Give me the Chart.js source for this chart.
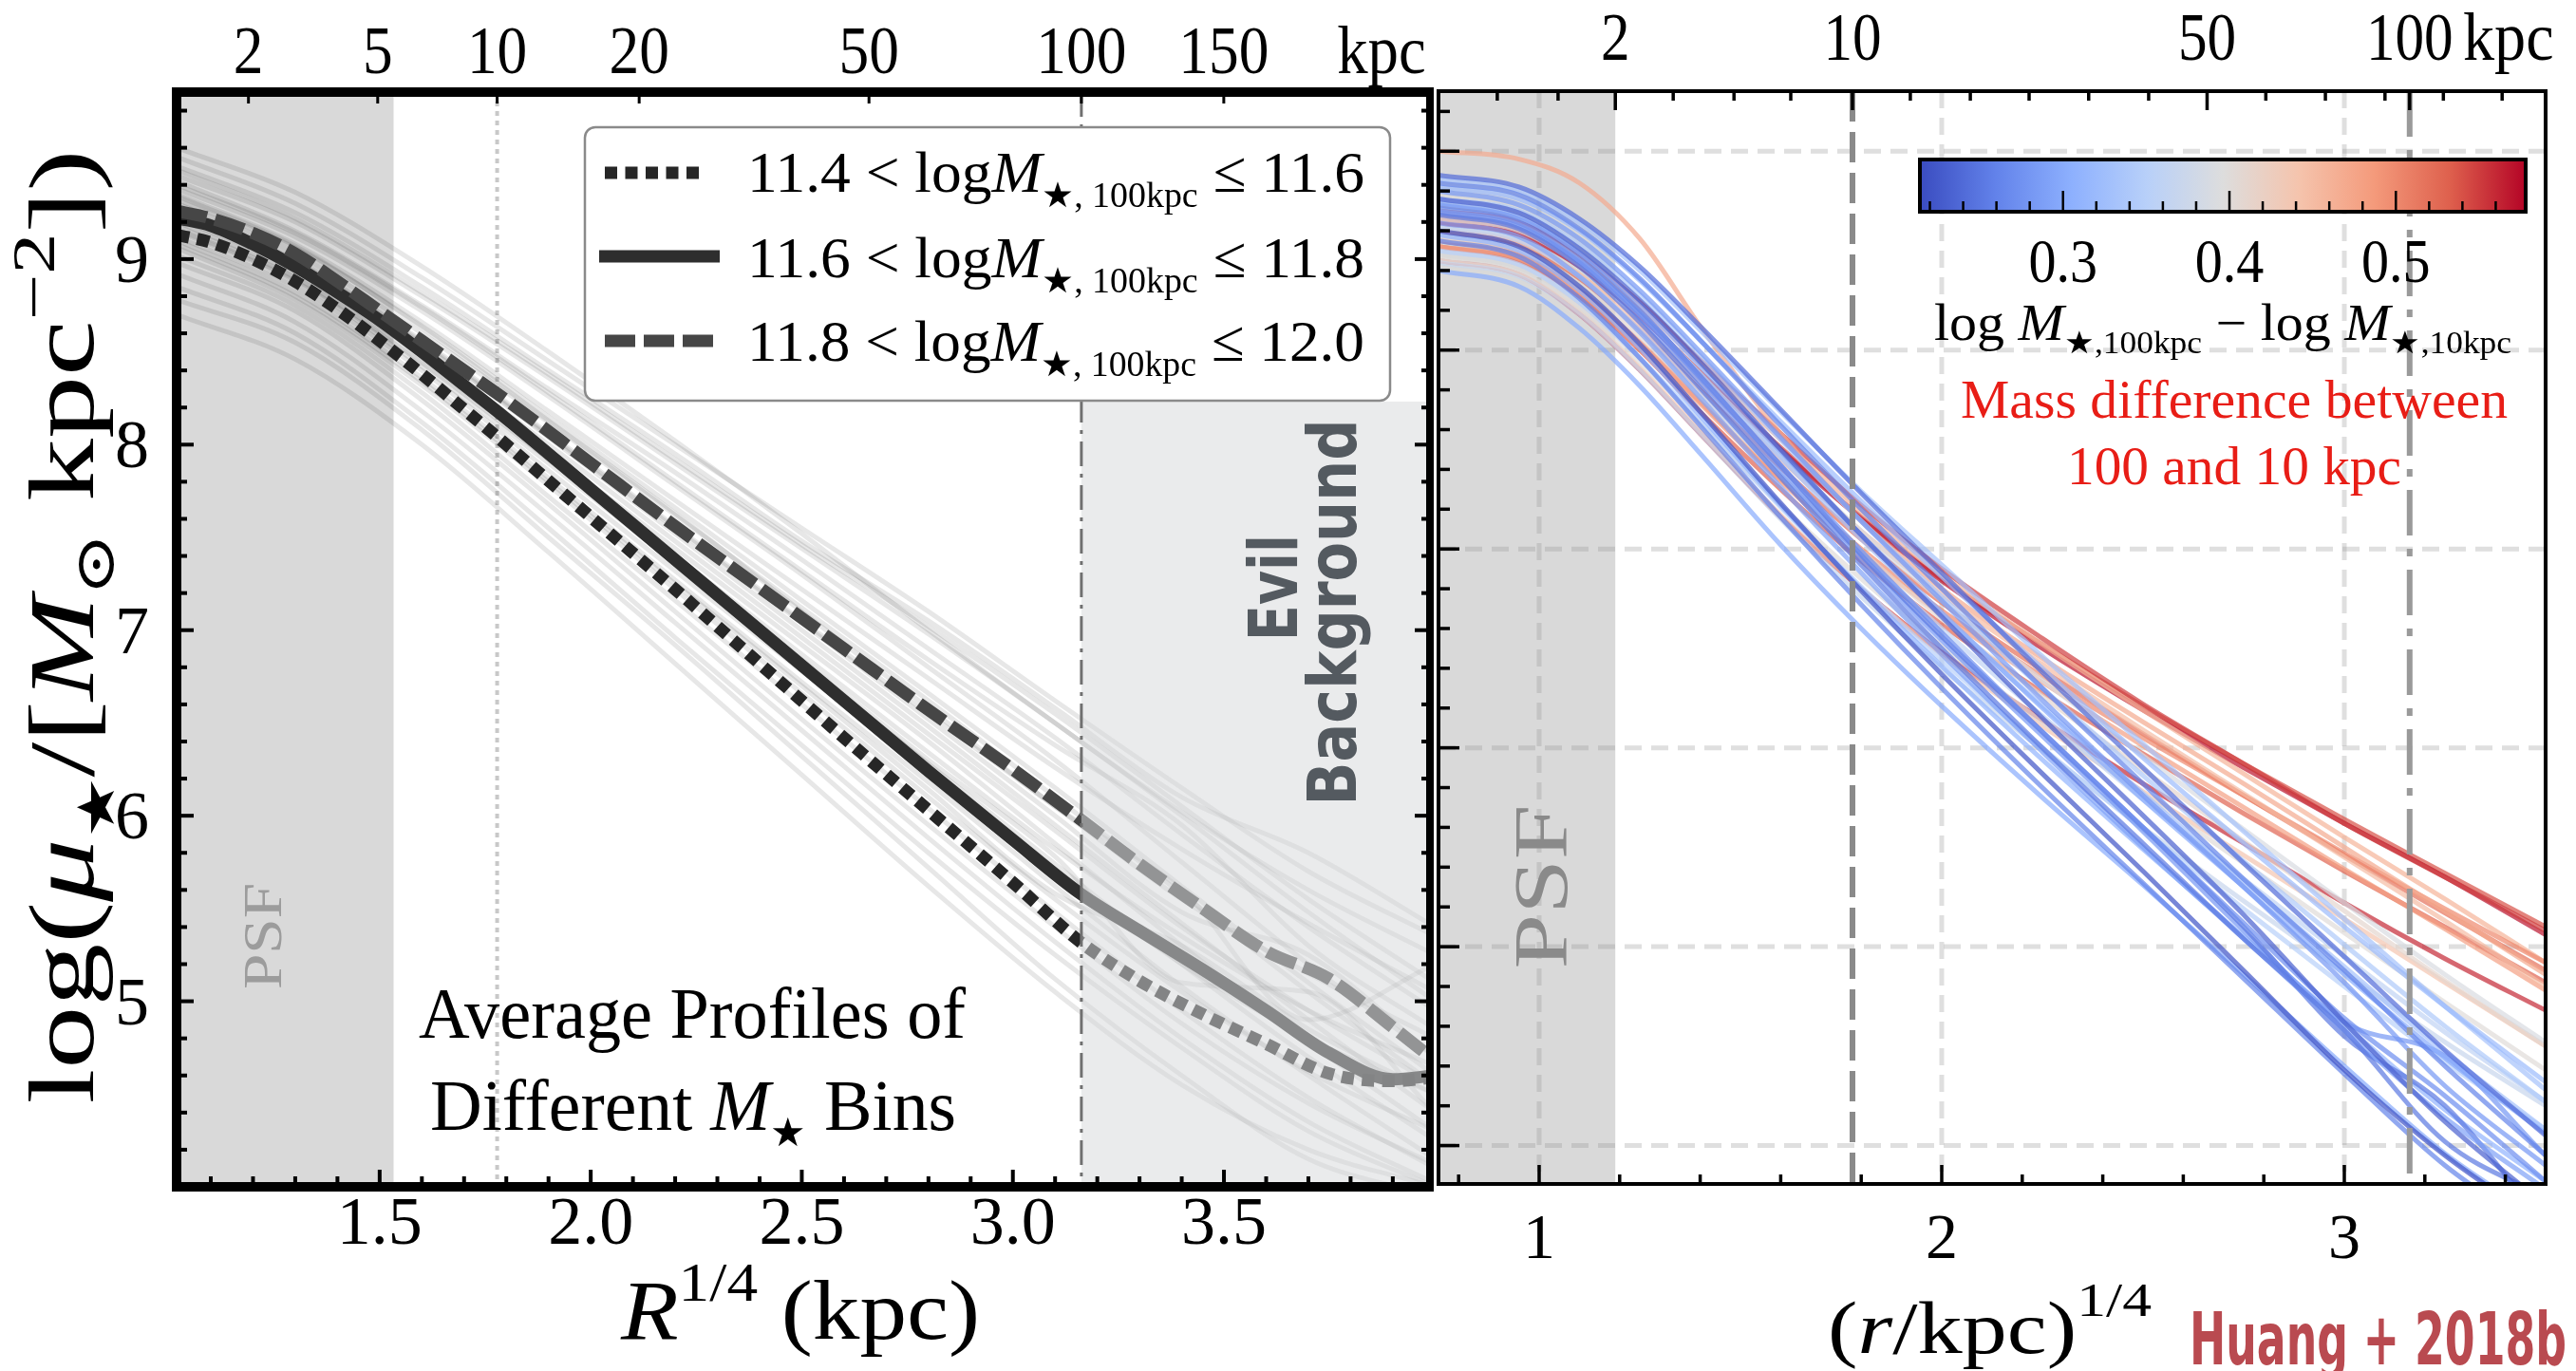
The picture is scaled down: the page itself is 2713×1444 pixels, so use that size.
<!DOCTYPE html>
<html>
<head>
<meta charset="utf-8">
<script src="https://cdn.jsdelivr.net/npm/chart.js@4.4.1/dist/chart.umd.min.js"></script>
<style>
  html, body { margin: 0; padding: 0; background: #fff; }
  #wrap { position: relative; width: 2713px; height: 1444px; overflow: hidden; background: #fff; }
  #wrap canvas { position: absolute; left: 0; top: 0; width: 2713px; height: 1444px; }
</style>
</head>
<body>
<div id="wrap">
  <canvas id="leftPanel" width="2713" height="1444"></canvas>
  <canvas id="rightPanel" width="2713" height="1444"></canvas>
</div>
<script>
// ---------------------------------------------------------------
// Left panel: average profiles of three stellar-mass bins
// ---------------------------------------------------------------
const rQ = [1.02, 1.1, 1.2, 1.3, 1.4, 1.5, 1.6, 1.7, 1.8, 2.0, 2.2, 2.4, 2.6, 2.8, 3.0, 3.16, 3.3, 3.45, 3.6, 3.75, 3.9, 4.0];
// 11.4 < logM <= 11.6 (dotted)
const muMeanLow  = [9.13, 9.09, 9.00, 8.88, 8.73, 8.56, 8.38, 8.19, 8.00, 7.61, 7.22, 6.82, 6.42, 6.03, 5.64, 5.32, 5.11, 4.93, 4.77, 4.61, 4.57, 4.59];
// 11.6 < logM <= 11.8 (solid)
const muMeanMid  = [9.22, 9.18, 9.08, 8.96, 8.82, 8.67, 8.50, 8.32, 8.14, 7.76, 7.38, 7.00, 6.62, 6.24, 5.87, 5.58, 5.38, 5.17, 4.95, 4.72, 4.58, 4.60];
// 11.8 < logM <= 12.0 (dashed)
const muMeanHigh = [9.26, 9.22, 9.14, 9.03, 8.88, 8.72, 8.56, 8.40, 8.24, 7.90, 7.56, 7.23, 6.90, 6.57, 6.25, 5.98, 5.74, 5.50, 5.27, 5.12, 4.86, 4.68];
const binEdges = ['11.4', '11.6', '11.8', '12.0'];

// individual galaxy profiles drawn faintly behind the averages
const rQIndiv = [1.02, 1.3, 1.6, 1.9, 2.2, 2.5, 2.8, 3.1, 3.4, 3.7, 4.0];
const indivProfiles = [
  [9.60, 9.36, 8.96, 8.50, 8.02, 7.52, 7.00, 6.50, 6.02, 5.60, 5.25],
  [9.55, 9.30, 8.90, 8.45, 8.00, 7.55, 7.10, 6.62, 6.15, 5.70, 5.35],
  [9.48, 9.22, 8.82, 8.38, 7.92, 7.46, 7.02, 6.55, 6.05, 5.55, 5.10],
  [9.45, 9.20, 8.80, 8.36, 7.90, 7.44, 6.98, 6.50, 6.00, 5.48, 5.00],
  [9.42, 9.15, 8.75, 8.30, 7.85, 7.38, 6.90, 6.42, 5.90, 5.40, 4.95],
  [9.38, 9.12, 8.72, 8.26, 7.78, 7.30, 6.80, 6.30, 5.75, 5.20, 4.70],
  [9.35, 9.08, 8.66, 8.18, 7.70, 7.22, 6.74, 6.26, 5.82, 5.42, 5.05],
  [9.32, 9.06, 8.64, 8.15, 7.66, 7.16, 6.66, 6.15, 5.62, 5.10, 4.60],
  [9.30, 9.03, 8.60, 8.12, 7.62, 7.12, 6.62, 6.10, 5.58, 5.05, 4.55],
  [9.28, 9.00, 8.56, 8.06, 7.56, 7.05, 6.55, 6.05, 5.55, 5.15, 4.80],
  [9.25, 8.98, 8.54, 8.04, 7.52, 7.00, 6.48, 5.95, 5.42, 4.90, 4.40],
  [9.22, 8.95, 8.50, 8.00, 7.48, 6.96, 6.44, 5.92, 5.40, 4.95, 4.55],
  [9.20, 8.92, 8.48, 7.96, 7.44, 6.92, 6.40, 5.85, 5.30, 4.78, 4.30],
  [9.18, 8.90, 8.45, 7.94, 7.40, 6.87, 6.34, 5.82, 5.35, 4.95, 4.65],
  [9.15, 8.88, 8.42, 7.90, 7.36, 6.82, 6.28, 5.74, 5.20, 4.70, 4.25],
  [9.12, 8.85, 8.40, 7.86, 7.32, 6.78, 6.24, 5.70, 5.20, 4.80, 4.50],
  [9.10, 8.82, 8.36, 7.82, 7.27, 6.72, 6.18, 5.62, 5.08, 4.60, 4.15],
  [9.06, 8.78, 8.32, 7.78, 7.22, 6.66, 6.10, 5.55, 5.05, 4.62, 4.30],
  [9.02, 8.75, 8.28, 7.72, 7.16, 6.60, 6.04, 5.48, 4.95, 4.48, 4.10],
  [8.98, 8.72, 8.24, 7.68, 7.10, 6.52, 5.95, 5.40, 4.88, 4.45, 4.12],
  [8.92, 8.66, 8.18, 7.62, 7.04, 6.46, 5.88, 5.32, 4.80, 4.35, 4.02],
  [8.85, 8.60, 8.12, 7.55, 6.96, 6.38, 5.80, 5.25, 4.75, 4.30, 4.00],
  [8.78, 8.55, 8.08, 7.50, 6.92, 6.32, 5.72, 5.12, 4.60, 4.15, 3.95],
  [8.70, 8.46, 8.00, 7.42, 6.82, 6.22, 5.62, 5.05, 4.55, 4.20, 4.00],
  [9.34, 9.07, 8.63, 8.13, 7.63, 7.10, 6.58, 6.05, 5.60, 4.90, 5.20],
  [9.16, 8.89, 8.44, 7.92, 7.38, 6.84, 6.30, 5.78, 5.10, 5.05, 4.40],
  [9.40, 9.14, 8.74, 8.28, 7.80, 7.32, 6.84, 6.38, 5.95, 5.30, 4.85],
  [9.26, 8.99, 8.55, 8.05, 7.55, 7.04, 6.52, 6.00, 5.48, 5.25, 4.70],
  [9.08, 8.80, 8.34, 7.80, 7.25, 6.70, 6.14, 5.58, 5.30, 4.85, 4.50],
  [9.50, 9.25, 8.85, 8.40, 7.95, 7.48, 7.05, 6.58, 6.10, 5.80, 5.40]
];

// ---------------------------------------------------------------
// Right panel: individual profiles coloured by logM100 - logM10
// ---------------------------------------------------------------
const rQRight = [0.75, 0.95, 1.1, 1.25, 1.4, 1.6, 1.8, 2.0, 2.25, 2.5, 2.75, 3.0, 3.25, 3.5];
const massDiff = [
  0.24, 0.26, 0.28, 0.23, 0.30, 0.27, 0.25, 0.29, 0.22, 0.26, 0.25, 0.28,
  0.32, 0.34, 0.33, 0.36, 0.31, 0.35, 0.37, 0.30, 0.33,
  0.39, 0.41, 0.40,
  0.47, 0.45, 0.48, 0.44, 0.50, 0.46,
  0.55, 0.57, 0.53, 0.56, 0.52, 0.54
];
const rightProfiles = [
  [9.88, 9.82, 9.66, 9.42, 9.12, 8.70, 8.28, 7.88, 7.38, 6.90, 6.42, 5.95, 5.48, 5.05],
  [9.84, 9.78, 9.61, 9.36, 9.05, 8.62, 8.20, 7.80, 7.30, 6.82, 6.34, 5.88, 5.40, 4.95],
  [9.80, 9.73, 9.56, 9.30, 8.99, 8.56, 8.14, 7.74, 7.24, 6.76, 6.30, 5.82, 5.30, 4.90],
  [9.76, 9.69, 9.51, 9.25, 8.94, 8.50, 8.07, 7.66, 7.15, 6.66, 6.16, 5.62, 5.12, 4.70],
  [9.74, 9.67, 9.49, 9.23, 8.92, 8.49, 8.07, 7.68, 7.20, 6.74, 6.30, 5.86, 5.44, 5.06],
  [9.71, 9.64, 9.45, 9.18, 8.86, 8.42, 7.99, 7.58, 7.08, 6.60, 6.12, 5.64, 5.25, 4.82],
  [9.68, 9.61, 9.42, 9.14, 8.81, 8.36, 7.92, 7.50, 7.00, 6.52, 6.04, 5.58, 5.02, 4.74],
  [9.64, 9.57, 9.37, 9.09, 8.76, 8.31, 7.88, 7.47, 6.98, 6.50, 6.04, 5.58, 5.14, 4.78],
  [9.60, 9.52, 9.32, 9.03, 8.69, 8.23, 7.79, 7.37, 6.87, 6.38, 5.88, 5.38, 4.95, 4.60],
  [9.55, 9.47, 9.26, 8.96, 8.62, 8.16, 7.72, 7.30, 6.80, 6.32, 5.84, 5.36, 4.90, 4.55],
  [9.73, 9.66, 9.48, 9.20, 8.87, 8.42, 7.97, 7.56, 7.08, 6.60, 6.10, 5.55, 5.20, 4.60],
  [9.69, 9.62, 9.44, 9.16, 8.84, 8.39, 7.95, 7.54, 7.06, 6.58, 6.08, 5.62, 5.45, 4.95],
  [9.82, 9.76, 9.60, 9.35, 9.05, 8.64, 8.24, 7.86, 7.40, 6.95, 6.52, 6.10, 5.70, 5.32],
  [9.76, 9.70, 9.53, 9.28, 8.97, 8.55, 8.14, 7.76, 7.30, 6.86, 6.43, 6.01, 5.60, 5.22],
  [9.70, 9.63, 9.45, 9.19, 8.88, 8.46, 8.05, 7.67, 7.21, 6.77, 6.33, 5.90, 5.47, 5.08],
  [9.62, 9.55, 9.37, 9.10, 8.79, 8.37, 7.97, 7.60, 7.16, 6.74, 6.34, 5.95, 5.57, 5.22],
  [9.58, 9.50, 9.30, 9.01, 8.67, 8.22, 7.80, 7.41, 6.94, 6.49, 6.05, 5.61, 5.18, 4.82],
  [9.50, 9.43, 9.24, 8.96, 8.64, 8.21, 7.81, 7.44, 7.00, 6.59, 6.19, 5.80, 5.42, 5.08],
  [9.44, 9.37, 9.18, 8.90, 8.58, 8.15, 7.76, 7.40, 6.99, 6.60, 6.23, 5.87, 5.52, 5.20],
  [9.40, 9.32, 9.11, 8.82, 8.48, 8.02, 7.60, 7.21, 6.75, 6.31, 5.86, 5.40, 4.96, 4.62],
  [9.86, 9.80, 9.64, 9.40, 9.10, 8.69, 8.29, 7.92, 7.46, 7.02, 6.58, 6.14, 5.70, 5.28],
  [9.66, 9.60, 9.43, 9.18, 8.88, 8.47, 8.09, 7.74, 7.34, 6.96, 6.59, 6.22, 5.86, 5.52],
  [9.56, 9.50, 9.33, 9.07, 8.77, 8.37, 7.99, 7.65, 7.26, 6.89, 6.53, 6.18, 5.83, 5.50],
  [9.46, 9.39, 9.21, 8.94, 8.63, 8.22, 7.85, 7.51, 7.13, 6.77, 6.42, 6.07, 5.72, 5.38],
  [10.00, 9.96, 9.84, 9.56, 9.12, 8.58, 8.14, 7.80, 7.45, 7.13, 6.82, 6.50, 6.18, 5.86],
  [9.60, 9.54, 9.38, 9.13, 8.84, 8.45, 8.09, 7.77, 7.42, 7.09, 6.77, 6.45, 6.13, 5.80],
  [9.52, 9.46, 9.29, 9.03, 8.73, 8.34, 7.98, 7.67, 7.33, 7.01, 6.70, 6.39, 6.09, 5.78],
  [9.45, 9.38, 9.19, 8.91, 8.59, 8.17, 7.80, 7.47, 7.11, 6.78, 6.46, 6.14, 5.82, 5.50],
  [9.55, 9.48, 9.30, 9.04, 8.74, 8.35, 8.00, 7.69, 7.36, 7.05, 6.76, 6.47, 6.19, 5.92],
  [9.68, 9.62, 9.46, 9.22, 8.93, 8.55, 8.19, 7.87, 7.52, 7.19, 6.87, 6.55, 6.24, 5.92],
  [9.70, 9.64, 9.48, 9.24, 8.95, 8.58, 8.22, 7.90, 7.55, 7.22, 6.92, 6.62, 6.35, 6.08],
  [9.64, 9.58, 9.42, 9.17, 8.88, 8.50, 8.15, 7.84, 7.50, 7.19, 6.90, 6.62, 6.35, 6.06],
  [9.52, 9.45, 9.27, 9.00, 8.69, 8.30, 7.94, 7.62, 7.28, 6.97, 6.67, 6.38, 6.10, 5.82],
  [9.45, 9.38, 9.18, 8.90, 8.58, 8.16, 7.80, 7.48, 7.14, 6.82, 6.52, 6.22, 5.94, 5.68],
  [9.60, 9.53, 9.36, 9.10, 8.80, 8.41, 8.05, 7.73, 7.39, 7.07, 6.76, 6.46, 6.17, 5.88],
  [9.66, 9.60, 9.43, 9.18, 8.89, 8.51, 8.16, 7.85, 7.52, 7.21, 6.92, 6.64, 6.37, 6.10]
];

// ---------------------------------------------------------------
// Tick values and labels
// ---------------------------------------------------------------
const leftYTicks = [5, 6, 7, 8, 9];
const leftXTicks = [1.5, 2.0, 2.5, 3.0, 3.5];
const leftKpcTicks = [2, 5, 10, 20, 50, 100, 150];
const rightXTicks = [1, 2, 3];
const rightYTicks = [5, 6, 7, 8, 9, 10];
const rightKpcTicks = [2, 10, 50, 100];
const rightTopMinor = [0.896, 1.047, 1.333, 1.484, 1.625, 1.922, 2.071, 2.217, 2.365, 2.514, 2.805, 2.953, 3.101, 3.246, 3.392];
const cbarTicks = [0.3, 0.4, 0.5];
const cbarRange = [0.214, 0.578];

// ---------------------------------------------------------------
// Layout (page pixels)
// ---------------------------------------------------------------
const W = 2713, H = 1444;
const LA = { left: 186, right: 1506, top: 97, bottom: 1250, xMin: 1.019, xMax: 3.988, yMin: 4.0, yMax: 9.9 };
const RA = { left: 1515, right: 2681, top: 96, bottom: 1247, xMin: 0.75, xMax: 3.5, yMin: 4.807, yMax: 10.302 };
const psfLeftEdge = 1.533;            // R^(1/4) where the PSF band ends
const psfRightEdge = Math.pow(2, 0.25);
const kpc10 = Math.pow(10, 0.25);
const kpc100 = Math.pow(100, 0.25);
const evilTop = 8.232;

const SERIF = '"Liberation Serif", "DejaVu Serif", serif';
const NARROW = '"Liberation Sans Narrow", "DejaVu Sans Condensed", "Liberation Sans", sans-serif';

// coolwarm colour map
const CW = [
  [0.000, [58, 76, 192]], [0.125, [98, 130, 234]], [0.250, [141, 176, 254]],
  [0.375, [184, 208, 249]], [0.500, [221, 221, 221]], [0.625, [245, 196, 173]],
  [0.750, [244, 154, 123]], [0.875, [222, 96, 77]], [1.000, [180, 4, 38]]
];
function coolwarm(t) {
  t = Math.max(0, Math.min(1, t));
  for (let i = 1; i < CW.length; i++) {
    if (t <= CW[i][0]) {
      const [t0, c0] = CW[i - 1], [t1, c1] = CW[i];
      const f = (t - t0) / (t1 - t0);
      return c0.map((v, k) => Math.round(v + (c1[k] - v) * f));
    }
  }
  return CW[CW.length - 1][1];
}

function pts(xs, ys) { return xs.map((x, i) => ({ x: x, y: ys[i] })); }

function seg(ctx, x1, y1, x2, y2) { ctx.beginPath(); ctx.moveTo(x1, y1); ctx.lineTo(x2, y2); ctx.stroke(); }

// rich text: segments {t, it, sc, dy}; optional width fit and rotation
function drawRich(ctx, segs, x, y, o) {
  ctx.save();
  const fam = o.family || SERIF;
  const fontFor = s => `${s.it ? 'italic ' : ''}${o.weight || 'normal'} ${Math.round(o.size * (s.sc || 1))}px ${fam}`;
  let w = 0;
  const ws = segs.map(s => { ctx.font = fontFor(s); const m = ctx.measureText(s.t).width; w += m; return m; });
  const sx = o.width ? o.width / w : (o.sx || 1);
  ctx.translate(x, y);
  if (o.rotate) ctx.rotate(o.rotate);
  ctx.scale(sx, 1);
  let cx = o.align === 'center' ? -w / 2 : (o.align === 'right' ? -w : 0);
  ctx.fillStyle = o.color || '#000';
  ctx.textBaseline = 'alphabetic';
  ctx.textAlign = 'left';
  segs.forEach((s, i) => { ctx.font = fontFor(s); ctx.fillText(s.t, cx, (s.dy || 0) * o.size); cx += ws[i]; });
  ctx.restore();
}

function plainText(ctx, t, x, y, size, align, sx) {
  drawRich(ctx, [{ t: t }], x, y, { size: size, align: align || 'center', sx: sx || 1 });
}

function hiddenScale(extra) {
  return Object.assign({
    type: 'linear',
    ticks: { display: false },
    grid: { display: false, drawTicks: false },
    border: { display: false }
  }, extra);
}

// ---------------------------------------------------------------
// Left panel decorations
// ---------------------------------------------------------------
const leftDecor = {
  id: 'leftDecor',
  beforeDatasetsDraw(chart) {
    const { ctx, chartArea: a, scales: { x } } = chart;
    ctx.save();
    ctx.fillStyle = '#d9d9d9';
    ctx.fillRect(a.left, a.top, x.getPixelForValue(psfLeftEdge) - a.left, a.bottom - a.top);
    ctx.strokeStyle = '#c8c8c8';
    ctx.lineWidth = 4;
    ctx.setLineDash([5, 5]);
    const px = x.getPixelForValue(kpc10);
    seg(ctx, px, a.top, px, a.bottom);
    ctx.restore();
  },
  afterDatasetsDraw(chart) {
    const { ctx, chartArea: a, scales: { x, y } } = chart;
    ctx.save();
    // outer region dominated by background subtraction
    const ex = x.getPixelForValue(kpc100), ey = y.getPixelForValue(evilTop);
    ctx.fillStyle = 'rgba(216,217,220,0.53)';
    ctx.fillRect(ex, ey, a.right - ex, a.bottom - ey);
    ctx.strokeStyle = '#707070';
    ctx.lineWidth = 3;
    ctx.setLineDash([26, 8, 4, 8]);
    seg(ctx, ex, a.top, ex, a.bottom);
    ctx.setLineDash([]);
    drawRich(ctx, [{ t: 'Evil' }], 1366, 619, { size: 72, family: NARROW, weight: 'bold', color: '#545a60', align: 'center', width: 112, rotate: -Math.PI / 2 });
    drawRich(ctx, [{ t: 'Background' }], 1428, 645, { size: 72, family: NARROW, weight: 'bold', color: '#545a60', align: 'center', width: 407, rotate: -Math.PI / 2 });

    // legend
    const lb = { l: 616, t: 134, r: 1464, b: 422 };
    ctx.beginPath();
    ctx.roundRect(lb.l, lb.t, lb.r - lb.l, lb.b - lb.t, 11);
    ctx.fillStyle = '#fff';
    ctx.fill();
    ctx.strokeStyle = '#8a8a8a';
    ctx.lineWidth = 2.5;
    ctx.stroke();
    const rows = [
      { y: 182, base: 202, dash: [13, 8.5], color: '#262626', x1: 637, x2: 743, lo: binEdges[0], hi: binEdges[1] },
      { y: 270, base: 292, dash: [], color: '#2e2e2e', x1: 631, x2: 758, lo: binEdges[1], hi: binEdges[2] },
      { y: 359, base: 380, dash: [32, 9], color: '#464646', x1: 637, x2: 751, lo: binEdges[2], hi: binEdges[3] }
    ];
    rows.forEach(r => {
      ctx.strokeStyle = r.color;
      ctx.lineWidth = 13;
      ctx.lineCap = 'butt';
      ctx.setLineDash(r.dash);
      seg(ctx, r.x1, r.y, r.x2, r.y);
      ctx.setLineDash([]);
      drawRich(ctx, [
        { t: r.lo + ' < log' }, { t: 'M', it: 1 }, { t: '\u2605, 100kpc', sc: 0.6, dy: 0.26 }, { t: ' \u2264 ' + r.hi }
      ], 787, r.base, { size: 62, width: 650 });
    });

    // panel annotations
    drawRich(ctx, [{ t: 'PSF' }], 296, 986, { size: 58, color: '#9c9c9c', align: 'center', width: 112, rotate: -Math.PI / 2 });
    drawRich(ctx, [{ t: 'Average Profiles of' }], 441, 1093, { size: 76, width: 576 });
    drawRich(ctx, [{ t: 'Different ' }, { t: 'M', it: 1 }, { t: '\u2605', sc: 0.55, dy: 0.22 }, { t: ' Bins' }], 453, 1190, { size: 76, width: 554 });

    // frame
    ctx.strokeStyle = '#000';
    ctx.lineCap = 'butt';
    ctx.lineWidth = 10;
    seg(ctx, a.left, a.top - 5, a.left, a.bottom + 5);
    seg(ctx, a.left - 5, a.top, a.right + 4, a.top);
    seg(ctx, a.left - 5, a.bottom, a.right + 4, a.bottom);
    ctx.lineWidth = 8;
    seg(ctx, a.right, a.top - 5, a.right, a.bottom + 5);

    // ticks
    ctx.lineWidth = 4;
    for (let v = 4.2; v < 9.85; v += 0.2) {
      const py = y.getPixelForValue(v);
      const major = Math.abs(v - Math.round(v)) < 1e-6;
      const len = major ? 18 : 11;
      seg(ctx, a.left, py, a.left + len, py);
      seg(ctx, a.right, py, a.right - len + 2, py);
    }
    for (let v = 1.1; v < 3.95; v += 0.1) {
      const px = x.getPixelForValue(v);
      const major = Math.abs(v * 2 - Math.round(v * 2)) < 1e-6;
      seg(ctx, px, a.bottom, px, a.bottom - (major ? 18 : 11));
    }
    ctx.lineWidth = 3;
    leftKpcTicks.forEach(k => {
      const px = x.getPixelForValue(Math.pow(k, 0.25));
      seg(ctx, px, a.top, px, a.top + 12);
    });

    // tick labels
    leftYTicks.forEach(v => plainText(ctx, String(v), 157, y.getPixelForValue(v) + 24, 72, 'right'));
    leftXTicks.forEach(v => plainText(ctx, v.toFixed(1), x.getPixelForValue(v), 1310, 72, 'center'));
    leftKpcTicks.forEach(k => plainText(ctx, String(k), x.getPixelForValue(Math.pow(k, 0.25)), 77, 72, 'center', 0.88));
    plainText(ctx, 'kpc', 1455, 77, 72, 'center', 0.9);

    // axis titles
    drawRich(ctx, [
      { t: 'log(' }, { t: '\u03bc', it: 1 }, { t: '\u2605', sc: 0.55, dy: 0.22 }, { t: '/[' }, { t: 'M', it: 1 },
      { t: '\u2299', sc: 0.6, dy: 0.22 }, { t: ' kpc' }, { t: '\u22122', sc: 0.65, dy: -0.42 }, { t: '])' }
    ], 98, 660, { size: 98, align: 'center', width: 1005, rotate: -Math.PI / 2 });
    drawRich(ctx, [{ t: 'R', it: 1 }, { t: '1/4', sc: 0.66, dy: -0.45 }, { t: ' (kpc)' }], 654, 1410, { size: 88, width: 378 });
    ctx.restore();
  }
};

// ---------------------------------------------------------------
// Right panel decorations
// ---------------------------------------------------------------
const rightDecor = {
  id: 'rightDecor',
  beforeDatasetsDraw(chart) {
    const { ctx, chartArea: a, scales: { x, y } } = chart;
    ctx.save();
    ctx.fillStyle = '#d9d9d9';
    ctx.fillRect(a.left, a.top, x.getPixelForValue(psfRightEdge) - a.left, a.bottom - a.top);
    ctx.strokeStyle = 'rgba(150,150,150,0.3)';
    ctx.lineWidth = 5;
    ctx.setLineDash([18, 10]);
    rightYTicks.forEach(v => { const py = y.getPixelForValue(v); seg(ctx, a.left, py, a.right, py); });
    rightXTicks.forEach(v => { const px = x.getPixelForValue(v); seg(ctx, px, a.top, px, a.bottom); });
    ctx.restore();
  },
  afterDatasetsDraw(chart) {
    const { ctx, chartArea: a, scales: { x, y } } = chart;
    ctx.save();
    // 10 kpc and 100 kpc markers
    ctx.lineCap = 'butt';
    ctx.strokeStyle = '#8a8a8a';
    ctx.lineWidth = 6;
    ctx.setLineDash([32, 11]);
    let px = x.getPixelForValue(kpc10);
    seg(ctx, px, a.top, px, a.bottom);
    ctx.strokeStyle = '#9a9a9a';
    ctx.setLineDash([48, 14, 8, 14]);
    px = x.getPixelForValue(kpc100);
    seg(ctx, px, a.top, px, a.bottom);
    ctx.setLineDash([]);

    drawRich(ctx, [{ t: 'PSF' }], 1650, 934, { size: 80, color: '#8a8a8a', align: 'center', width: 173, rotate: -Math.PI / 2 });

    // colour bar
    const cb = { l: 2022, r: 2660, t: 168, b: 223 };
    const g = ctx.createLinearGradient(cb.l, 0, cb.r, 0);
    CW.forEach(([t, c]) => g.addColorStop(t, `rgb(${c[0]},${c[1]},${c[2]})`));
    ctx.fillStyle = g;
    ctx.fillRect(cb.l, cb.t, cb.r - cb.l, cb.b - cb.t);
    const cbx = v => cb.l + (v - cbarRange[0]) / (cbarRange[1] - cbarRange[0]) * (cb.r - cb.l);
    ctx.strokeStyle = '#000';
    ctx.lineWidth = 2.5;
    for (let v = 0.22; v < 0.575; v += 0.02) {
      const major = cbarTicks.some(t => Math.abs(t - v) < 1e-6);
      const tx = cbx(v);
      seg(ctx, tx, cb.b, tx, cb.b - (major ? 22 : 11));
    }
    ctx.lineWidth = 4;
    ctx.strokeRect(cb.l, cb.t, cb.r - cb.l, cb.b - cb.t);
    cbarTicks.forEach(v => plainText(ctx, v.toFixed(1), cbx(v), 297, 66, 'center', 0.88));
    drawRich(ctx, [
      { t: 'log ' }, { t: 'M', it: 1 }, { t: '\u2605,100kpc', sc: 0.62, dy: 0.25 }, { t: ' \u2212 log ' }, { t: 'M', it: 1 }, { t: '\u2605,10kpc', sc: 0.62, dy: 0.25 }
    ], 2037, 358, { size: 54, width: 608 });
    drawRich(ctx, [{ t: 'Mass difference between' }], 2353, 440, { size: 56, align: 'center', width: 576, color: '#e81d16' });
    drawRich(ctx, [{ t: '100 and 10 kpc' }], 2353, 510, { size: 56, align: 'center', width: 352, color: '#e81d16' });

    // frame
    ctx.strokeStyle = '#000';
    ctx.lineWidth = 4;
    ctx.strokeRect(a.left, a.top, a.right - a.left, a.bottom - a.top);

    // ticks
    ctx.lineWidth = 3.5;
    for (let v = 4.8; v < 10.3; v += 0.2) {
      if (v < RA.yMin) continue;
      const py = y.getPixelForValue(v);
      const major = Math.abs(v - Math.round(v)) < 1e-6;
      seg(ctx, a.left, py, a.left + (major ? 22 : 12), py);
    }
    for (let v = 0.8; v < 3.45; v += 0.2) {
      const tx = x.getPixelForValue(v);
      const major = Math.abs(v - Math.round(v)) < 1e-6;
      seg(ctx, tx, a.bottom, tx, a.bottom - (major ? 20 : 10));
    }
    rightKpcTicks.forEach(k => { const tx = x.getPixelForValue(Math.pow(k, 0.25)); seg(ctx, tx, a.top, tx, a.top + 20); });
    rightTopMinor.forEach(v => { const tx = x.getPixelForValue(v); seg(ctx, tx, a.top, tx, a.top + 10); });

    // tick labels
    rightXTicks.forEach(v => plainText(ctx, String(v), x.getPixelForValue(v), 1325, 68, 'center'));
    rightKpcTicks.forEach(k => plainText(ctx, String(k), x.getPixelForValue(Math.pow(k, 0.25)), 63, 72, 'center', 0.85));
    plainText(ctx, 'kpc', 2594, 63, 72, 'left', 0.92);

    // axis title and credit
    drawRich(ctx, [{ t: '(' }, { t: 'r', it: 1 }, { t: '/kpc)' }, { t: '1/4', sc: 0.66, dy: -0.5 }], 1925, 1425, { size: 78, width: 341 });
    drawRich(ctx, [{ t: 'Huang + 2018b' }], 2306, 1437, { size: 76, family: NARROW, weight: 'bold', width: 397, color: '#b94a50' });
    ctx.restore();
  }
};

// ---------------------------------------------------------------
// Charts
// ---------------------------------------------------------------
const lineBase = { pointRadius: 0, clip: 0, cubicInterpolationMode: 'monotone', fill: false };

const leftDatasets = indivProfiles.map(p => Object.assign({
  data: pts(rQIndiv, p), borderColor: 'rgba(20,20,20,0.10)', borderWidth: 5, order: 5
}, lineBase));
leftDatasets.push(Object.assign({ label: binEdges[0] + '-' + binEdges[1], data: pts(rQ, muMeanLow), borderColor: '#262626', borderWidth: 13, borderDash: [13, 8.5], order: 1 }, lineBase));
leftDatasets.push(Object.assign({ label: binEdges[1] + '-' + binEdges[2], data: pts(rQ, muMeanMid), borderColor: '#2e2e2e', borderWidth: 13, order: 2 }, lineBase));
leftDatasets.push(Object.assign({ label: binEdges[2] + '-' + binEdges[3], data: pts(rQ, muMeanHigh), borderColor: '#464646', borderWidth: 13, borderDash: [32, 9], order: 0 }, lineBase));

new Chart(document.getElementById('leftPanel'), {
  type: 'line',
  data: { datasets: leftDatasets },
  options: {
    responsive: false, animation: false, devicePixelRatio: 1, events: [],
    layout: { padding: { left: 0, right: W - LA.right, top: 0, bottom: 0 } },
    plugins: { legend: { display: false }, tooltip: { enabled: false }, title: { display: false } },
    scales: {
      x: hiddenScale({ position: 'bottom', min: LA.xMin, max: LA.xMax, afterFit(s) { s.height = H - LA.bottom; } }),
      xTop: hiddenScale({ position: 'top', min: LA.xMin, max: LA.xMax, afterFit(s) { s.height = LA.top; } }),
      y: hiddenScale({ position: 'left', min: LA.yMin, max: LA.yMax, afterFit(s) { s.width = LA.left; } })
    }
  },
  plugins: [leftDecor]
});

const rightDatasets = rightProfiles.map((p, i) => {
  const c = coolwarm((massDiff[i] - cbarRange[0]) / (cbarRange[1] - cbarRange[0]));
  return Object.assign({
    label: 'dM=' + massDiff[i].toFixed(2),
    data: pts(rQRight, p), borderColor: `rgba(${c[0]},${c[1]},${c[2]},0.7)`, borderWidth: 5
  }, lineBase);
});

new Chart(document.getElementById('rightPanel'), {
  type: 'line',
  data: { datasets: rightDatasets },
  options: {
    responsive: false, animation: false, devicePixelRatio: 1, events: [],
    layout: { padding: { left: RA.left - 3, right: W - RA.right, top: 0, bottom: 0 } },
    plugins: { legend: { display: false }, tooltip: { enabled: false }, title: { display: false } },
    scales: {
      x: hiddenScale({ position: 'bottom', min: RA.xMin, max: RA.xMax, afterFit(s) { s.height = H - RA.bottom; } }),
      xTop: hiddenScale({ position: 'top', min: RA.xMin, max: RA.xMax, afterFit(s) { s.height = RA.top; } }),
      y: hiddenScale({ position: 'left', min: RA.yMin, max: RA.yMax, afterFit(s) { s.width = 3; } })
    }
  },
  plugins: [rightDecor]
});
</script>
</body>
</html>
